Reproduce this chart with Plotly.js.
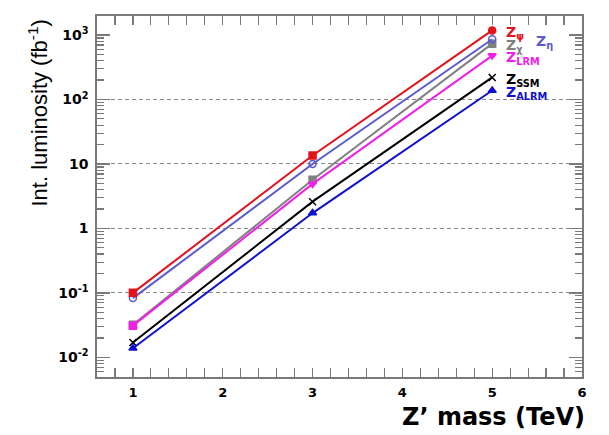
<!DOCTYPE html>
<html>
<head>
<meta charset="utf-8">
<script src="https://cdn.plot.ly/plotly-3.0.1.min.js"></script>
<style>html,body{margin:0;padding:0;background:#fff;}#chart{width:609px;height:435px;}</style>
</head>
<body>
<div id="chart"></div>
<script>
// Z' mass (TeV)
var mass = [1, 3, 5];
// Integrated luminosity needed (fb^-1)
var zPsi  = [0.100, 13.5, 1180];
var zEta  = [0.083, 10.0, 860];
var zChi  = [0.032, 5.7, 735];
var zLRM  = [0.031, 4.9, 480];
var zSSM  = [0.017, 2.6, 220];
var zALRM = [0.0138, 1.73, 138];

var xTicks = [1, 2, 3, 4, 5, 6];
var yTickVals = [0.01, 0.1, 1, 10, 100, 1000];
var yTickText = ['10<sup>-2</sup>', '10<sup>-1</sup>', '1', '10', '10<sup>2</sup>', '10<sup>3</sup>'];
var gridVals = [0.1, 1, 10, 100];

var names = ['Z<sub>ψ</sub>', 'Z<sub>η</sub>', 'Z<sub>χ</sub>', 'Z<sub>LRM</sub>', 'Z<sub>SSM</sub>', 'Z<sub>ALRM</sub>'];

var C = {psi:'#e3121b', eta:'#5b5bd0', chi:'#808080', lrm:'#f020e8', ssm:'#000000', alrm:'#1010d0'};

function tr(y, color, sym, size, nm) {
  return {x: mass, y: y, type: 'scatter', mode: 'lines+markers', name: nm,
    xaxis: 'x', yaxis: 'y2',
    line: {color: color, width: 2},
    marker: {color: color, symbol: sym, size: size, line: {color: color, width: 1.5}},
    showlegend: false, hoverinfo: 'skip'};
}

var data = [
  tr(zChi, C.chi, 'square', 7, names[2]),
  tr(zLRM, C.lrm, ['square', 'triangle-down', 'triangle-down'], 7, names[3]),
  tr(zSSM, C.ssm, 'x-thin-open', 7, names[4]),
  tr(zALRM, C.alrm, 'triangle-up', 7, names[5]),
  tr(zEta, C.eta, 'circle-open', 7, names[1]),
  tr(zPsi, C.psi, ['square', 'square', 'circle'], 7, names[0])
];

function ann(txt, yv, color, xs, ys) {
  return {x: mass[2], y: Math.log10(yv), xref: 'x', yref: 'y', text: txt, showarrow: false,
    xanchor: 'left', yanchor: 'middle', xshift: xs, yshift: ys,
    font: {family: 'DejaVu Sans', size: 14, weight: 'bold', color: color}};
}

var axisLine = '#7a7a7a';
var tickFont = {family: 'DejaVu Sans', size: 13, weight: 'bold', color: '#000'};
var yRange = [-2.305, 3.295];

var layout = {
  width: 609, height: 435,
  margin: {l: 97, r: 27, t: 16, b: 58},
  paper_bgcolor: '#fff', plot_bgcolor: '#fff',
  showlegend: false,
  xaxis: {
    range: [0.6, 6], tickmode: 'array', tickvals: xTicks,
    ticks: 'inside', ticklen: 9, tickwidth: 1.3, tickcolor: axisLine,
    minor: {dtick: 0.2, tick0: 0, ticks: 'inside', ticklen: 4, tickwidth: 1.2, tickcolor: axisLine, showgrid: false},
    showline: true, linecolor: axisLine, linewidth: 1.6, mirror: 'allticks',
    showgrid: false, zeroline: false, tickfont: tickFont, ticklabelstandoff: 3
  },
  yaxis: {
    type: 'log', range: yRange,
    tickmode: 'array', tickvals: yTickVals, ticktext: yTickText,
    ticks: 'inside', ticklen: 13, tickwidth: 1.3, tickcolor: axisLine,
    minor: {dtick: 'D1', ticks: 'inside', ticklen: 7, tickwidth: 1.2, tickcolor: axisLine, showgrid: false},
    showline: true, linecolor: axisLine, linewidth: 1.6, mirror: 'allticks',
    showgrid: false, zeroline: false, tickfont: {family: 'DejaVu Sans', size: 14, weight: 'bold', color: '#000'},
    ticklabelstandoff: 4
  },
  yaxis2: {
    type: 'log', range: yRange, overlaying: 'y', side: 'left',
    tickmode: 'array', tickvals: gridVals, showticklabels: false, ticks: '',
    showgrid: true, gridcolor: '#8a8a8a', gridwidth: 1, griddash: '4px,3px',
    showline: false, zeroline: false
  },
  annotations: [
    ann(names[0], zPsi[2], C.psi, 12, -3),
    ann(names[2], zChi[2], C.chi, 12, -2),
    ann(names[1], zEta[2], C.eta, 42, -3),
    ann(names[3], zLRM[2], C.lrm, 12, -2),
    ann(names[4], zSSM[2], C.ssm, 12, -3),
    ann(names[5], zALRM[2], C.alrm, 12, -3),
    {xref: 'paper', yref: 'paper', x: 0, y: 1, xanchor: 'center', yanchor: 'top',
     xshift: -60, yshift: -2, textangle: -90, showarrow: false,
     text: 'Int. luminosity (fb<sup>-1</sup>)',
     font: {family: 'Liberation Sans Narrow, Liberation Sans', size: 22, color: '#000'}},
    {xref: 'paper', yref: 'paper', x: 1, y: 0, xanchor: 'right', yanchor: 'middle',
     xshift: 5, yshift: -40, showarrow: false,
     text: 'Z’ mass (TeV)',
     font: {family: 'DejaVu Sans', size: 24, weight: 'bold', color: '#000'}}
  ]
};

Plotly.newPlot('chart', data, layout, {staticPlot: true, displayModeBar: false});
</script>
</body>
</html>
